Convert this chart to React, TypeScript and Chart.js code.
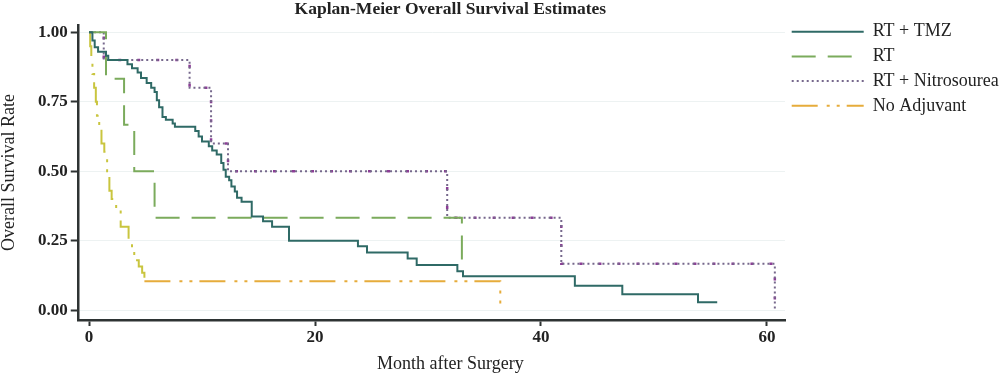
import React, { useEffect, useRef } from 'react';
import { Chart, registerables } from 'chart.js';

Chart.register(...registerables);

const TITLE = 'Kaplan-Meier Overall Survival Estimates';
const X_TITLE = 'Month after Surgery';
const Y_TITLE = 'Overall Survival Rate';

const seriesLabels = ['RT + TMZ', 'RT', 'RT + Nitrosourea', 'No Adjuvant'];
const xTicks = [0, 20, 40, 60];
const yTicks = [0, 0.25, 0.5, 0.75, 1];

// RT + TMZ
const tmzMonths = [0, 0.3, 0.5, 0.8, 1.5, 1.7, 3.4, 3.8, 4.3, 4.6, 5.1, 5.5, 5.8, 6.0, 6.2, 6.5, 6.8, 7.4, 7.6, 9.4, 9.7, 10.0, 10.6, 10.9, 11.3, 11.7, 11.9, 12.1, 12.4, 12.6, 12.9, 13.1, 13.5, 14.4, 15.4, 16.2, 17.7, 23.8, 24.6, 28.2, 29.0, 32.6, 33.1, 43.0, 47.2, 53.9, 55.6];
const tmzSurv = [1, 0.97, 0.946, 0.93, 0.915, 0.9, 0.885, 0.87, 0.855, 0.835, 0.817, 0.8, 0.785, 0.755, 0.73, 0.695, 0.685, 0.672, 0.66, 0.645, 0.625, 0.607, 0.59, 0.575, 0.56, 0.53, 0.505, 0.48, 0.468, 0.445, 0.427, 0.405, 0.39, 0.337, 0.32, 0.3, 0.25, 0.23, 0.208, 0.186, 0.163, 0.14, 0.122, 0.088, 0.058, 0.029, 0.029];

// RT
const rtMonths = [0, 1.5, 3.1, 4.0, 5.8, 33.0];
const rtSurv = [1, 0.833, 0.667, 0.5, 0.333, 0.167];

// RT + Nitrosourea
const nitroMonths = [0, 1.3, 8.9, 10.8, 12.3, 31.7, 41.8, 60.7];
const nitroSurv = [1, 0.9, 0.8, 0.6, 0.5, 0.333, 0.167, 0];

// No Adjuvant
const noAdjMonths = [0, 0.1, 0.2, 0.3, 0.45, 0.6, 0.7, 0.9, 1.1, 1.35, 1.6, 1.8, 2.0, 2.4, 2.8, 3.5, 3.8, 4.0, 4.4, 4.7, 4.9, 36.4];
const noAdjSurv = [1, 0.95, 0.9, 0.85, 0.8, 0.75, 0.7, 0.65, 0.6, 0.57, 0.5, 0.43, 0.4, 0.36, 0.3, 0.25, 0.21, 0.18, 0.157, 0.135, 0.104, 0];

const toPoints = (xs: number[], ys: number[]) => xs.map((x, i) => ({ x, y: ys[i] }));

const SERIF = '"Liberation Serif", "Times New Roman", serif';
const TEXT_COLOR = '#222222';
const AXIS_COLOR = '#2e3333';

export default function App() {
  const ref = useRef<HTMLCanvasElement>(null);

  useEffect(() => {
    const canvas = ref.current;
    if (!canvas) return;

    const figureText = {
      id: 'figureText',
      afterDraw(chart: any) {
        const { ctx, chartArea } = chart;
        const cx = (chartArea.left + chartArea.right) / 2 + 19;
        ctx.save();
        ctx.fillStyle = TEXT_COLOR;
        ctx.textAlign = 'center';
        ctx.textBaseline = 'middle';
        ctx.font = `bold 17.5px ${SERIF}`;
        ctx.fillText(TITLE, cx, 9);
        ctx.font = `18px ${SERIF}`;
        ctx.fillText(X_TITLE, cx, chart.height - 11);
        ctx.restore();
      },
    };

    const legendShift = {
      id: 'legendShift',
      afterLayout(chart: any) {
        const l = chart.legend;
        if (l) {
          l.top -= 9;
          l.bottom -= 9;
        }
      },
    };

    const chart = new Chart(canvas, {
      type: 'line',
      data: {
        datasets: [
          {
            label: seriesLabels[0],
            data: toPoints(tmzMonths, tmzSurv),
            borderColor: '#2f6a66',
            borderWidth: 2,
            borderDash: [],
            stepped: 'before',
          },
          {
            label: seriesLabels[1],
            data: toPoints(rtMonths, rtSurv),
            borderColor: '#7bab5c',
            borderWidth: 2,
            borderDash: [24, 12],
            stepped: 'before',
          },
          {
            label: seriesLabels[2],
            data: toPoints(nitroMonths, nitroSurv),
            borderColor: '#76688c',
            borderWidth: 2,
            borderDash: [2, 3],
            stepped: 'before',
          },
          {
            label: seriesLabels[3],
            data: toPoints(noAdjMonths, noAdjSurv),
            borderColor: '#e6ac3b',
            borderWidth: 2,
            borderDash: [26, 9, 3, 7, 3, 7],
            stepped: 'before',
            segment: {
              borderColor: (c: any) => (c.p0.parsed.x < 4.85 ? '#c9c53f' : undefined),
            },
          },
          {
            label: 'nitro-marks',
            data: toPoints(nitroMonths, nitroSurv),
            borderColor: '#8c3d96',
            borderWidth: 2.5,
            borderDash: [3, 16],
            stepped: 'before',
          },
        ] as any,
      },
      options: {
        responsive: false,
        animation: false,
        events: [],
        elements: {
          point: { radius: 0, hoverRadius: 0 },
          line: { fill: false, tension: 0, borderCapStyle: 'butt' },
        },
        layout: { padding: { top: 25, left: 0, right: 0, bottom: 26.6 } },
        plugins: {
          title: { display: false },
          tooltip: { enabled: false },
          legend: {
            display: true,
            position: 'right',
            align: 'start',
            maxWidth: 215,
            labels: {
              usePointStyle: true,
              pointStyle: 'line',
              pointStyleWidth: 72,
              boxHeight: 10,
              padding: 6.7,
              color: TEXT_COLOR,
              font: { family: SERIF, size: 18 },
              generateLabels: (ch: any) =>
                ch.data.datasets.slice(0, seriesLabels.length).map((ds: any, i: number) => ({
                  text: ds.label,
                  fillStyle: 'rgba(0,0,0,0)',
                  strokeStyle: ds.borderColor,
                  lineWidth: ds.borderWidth,
                  lineDash: ds.borderDash || [],
                  lineCap: 'butt',
                  pointStyle: 'line',
                  hidden: false,
                  datasetIndex: i,
                  fontColor: TEXT_COLOR,
                })),
            },
          },
        },
        scales: {
          x: {
            type: 'linear',
            min: -1,
            max: 61.6,
            afterBuildTicks: (scale: any) => {
              scale.ticks = xTicks.map((v) => ({ value: v }));
            },
            ticks: {
              autoSkip: false,
              maxRotation: 0,
              padding: 1,
              color: TEXT_COLOR,
              font: { family: SERIF, size: 17, weight: 'bold' },
              callback: (v: any) => String(v),
            },
            grid: {
              drawOnChartArea: false,
              drawTicks: true,
              tickLength: 6,
              tickWidth: 2,
              tickColor: AXIS_COLOR,
            },
            border: { display: true, color: AXIS_COLOR, width: 2.5 },
            title: { display: false },
          },
          y: {
            type: 'linear',
            min: -0.035,
            max: 1.026,
            afterBuildTicks: (scale: any) => {
              scale.ticks = yTicks.map((v) => ({ value: v }));
            },
            ticks: {
              autoSkip: false,
              padding: 3,
              color: TEXT_COLOR,
              font: { family: SERIF, size: 17, weight: 'bold' },
              callback: (v: any) => Number(v).toFixed(2),
            },
            grid: {
              drawOnChartArea: true,
              color: '#edf2f2',
              lineWidth: 1,
              drawTicks: true,
              tickLength: 7,
              tickWidth: 2,
              tickColor: AXIS_COLOR,
            },
            border: { display: true, color: AXIS_COLOR, width: 2.5 },
            title: {
              display: true,
              text: Y_TITLE,
              color: TEXT_COLOR,
              font: { family: SERIF, size: 18, lineHeight: 1 },
              padding: { top: 0, bottom: 17 },
            },
          },
        },
      } as any,
      plugins: [figureText, legendShift],
    });

    return () => chart.destroy();
  }, []);

  return (
    <div style={{ position: 'absolute', left: 0, top: 0, width: 1000, height: 375, background: '#ffffff' }}>
      <canvas ref={ref} width={1000} height={375} style={{ display: 'block' }} />
    </div>
  );
}
